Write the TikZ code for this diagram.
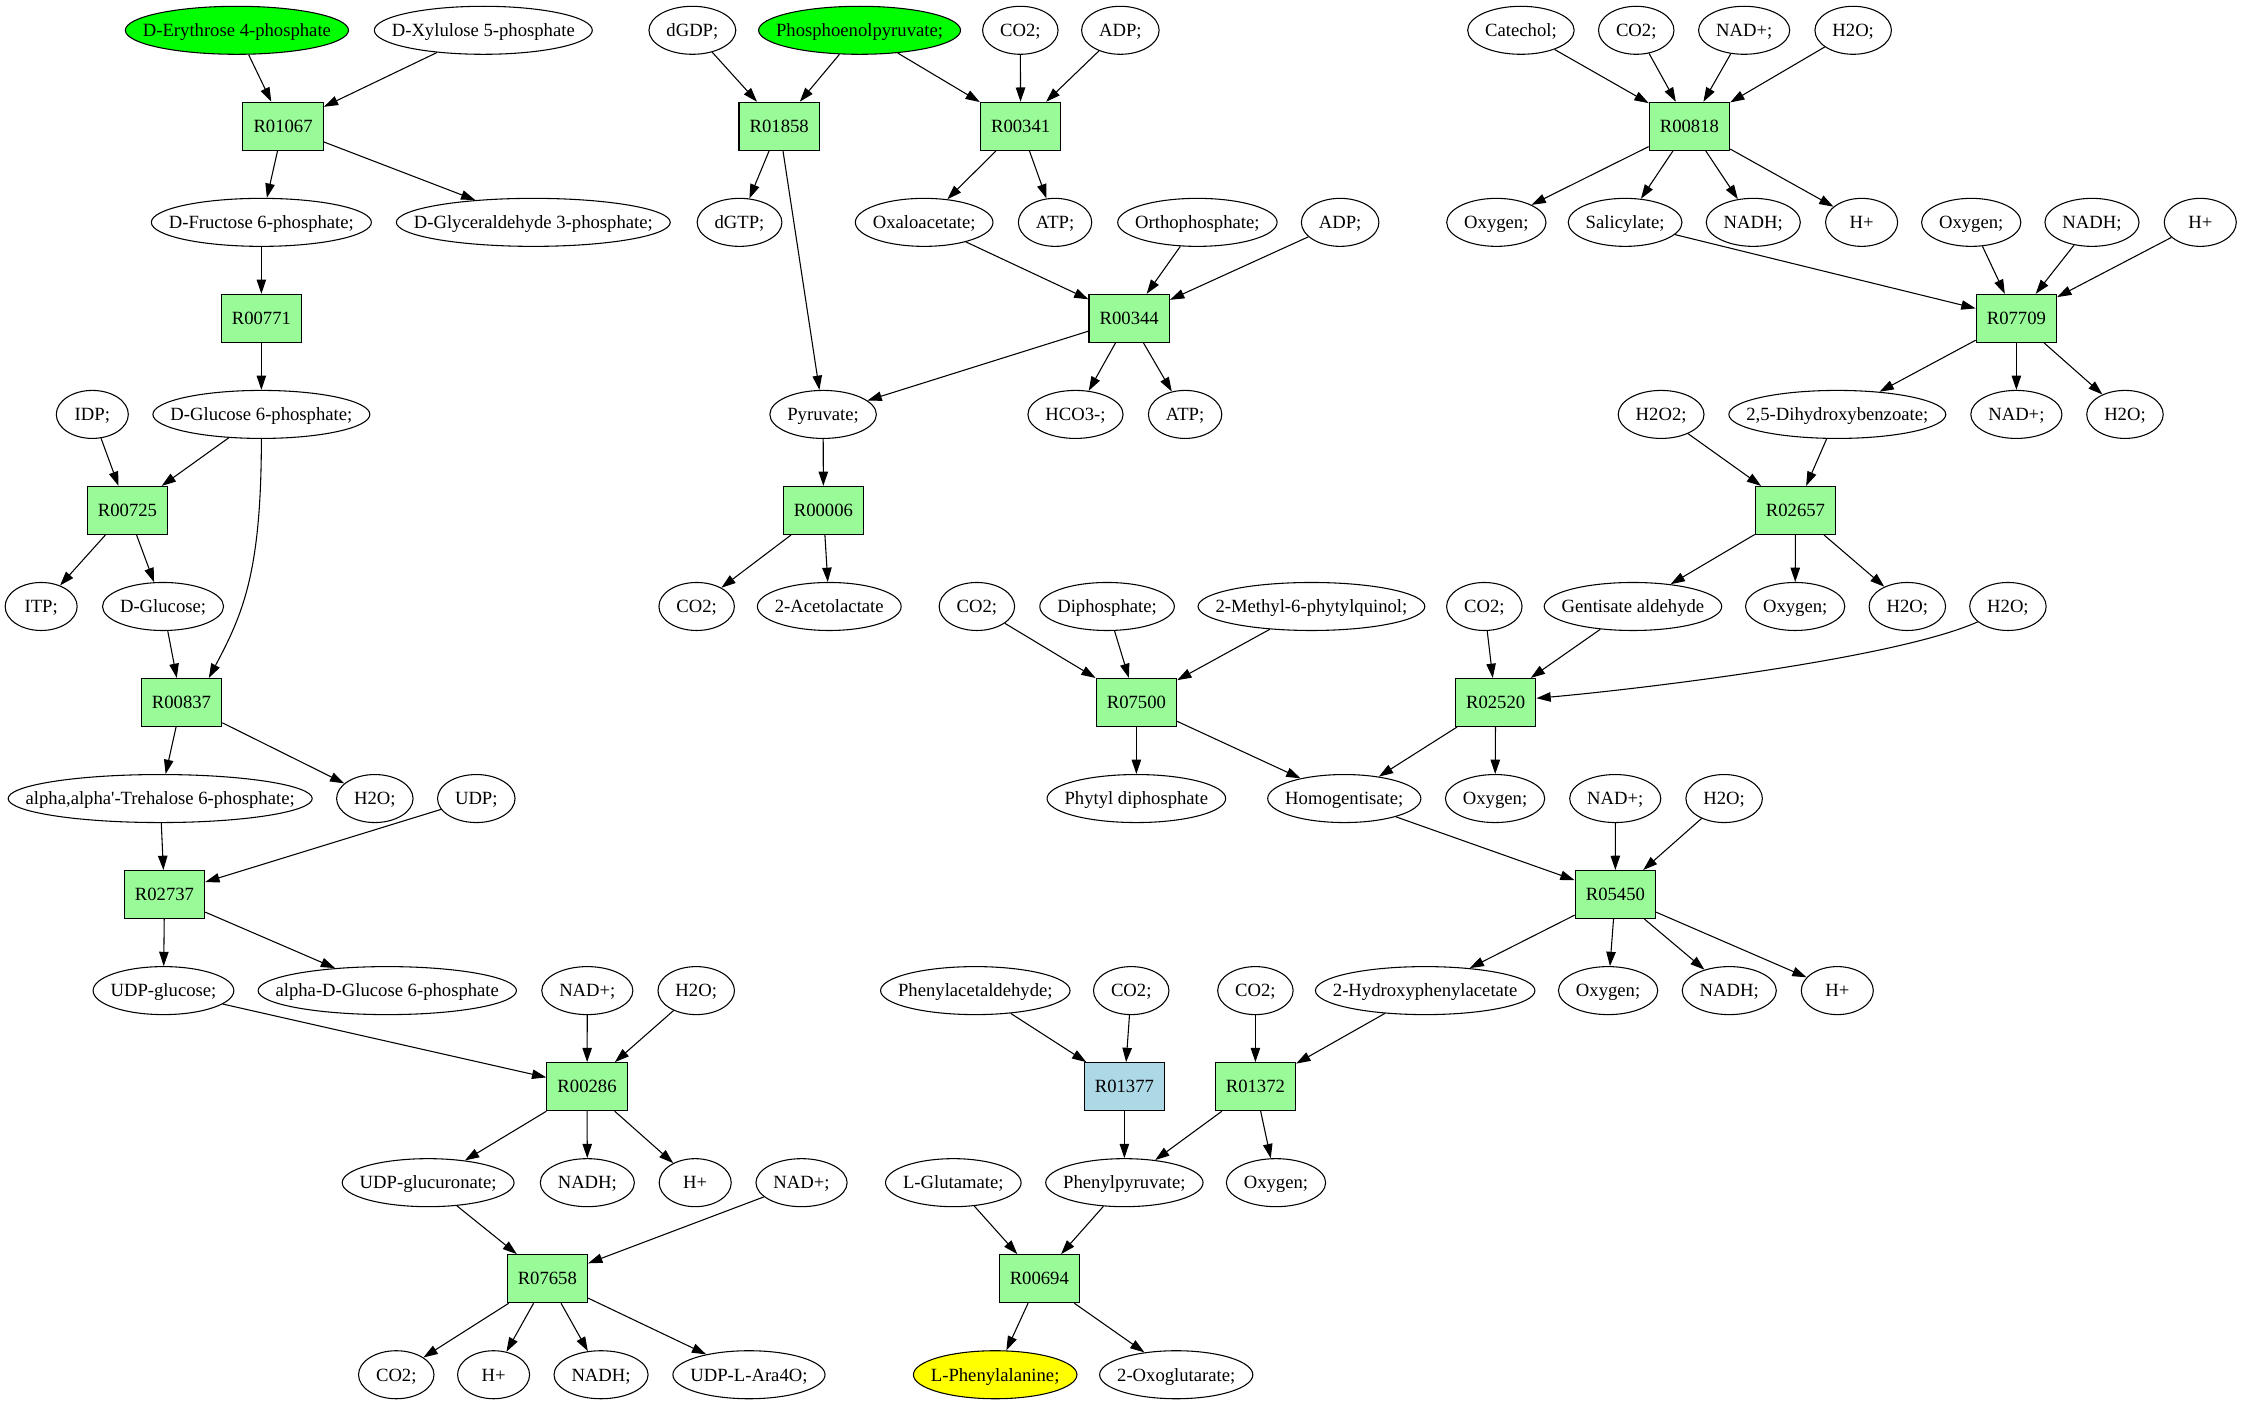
\documentclass[tikz,border=0pt]{standalone}
\usepackage{fontspec}
\setmainfont{Liberation Serif}
\usetikzlibrary{shapes.geometric,arrows.meta}
\definecolor{rxgreen}{HTML}{98FB98}
\definecolor{srcgreen}{HTML}{00FF00}
\definecolor{tgtyellow}{HTML}{FFFF00}
\definecolor{rxblue}{HTML}{ADD8E6}
\font\gvf="Liberation Serif" at 13.06pt
\newdimen\metw
% metabolite node: [style]{name}{x,y}{text}
\newcommand\met[4][]{%
  \setbox0=\hbox{\gvf #4}\metw=\wd0\relax
  \advance\metw by 24.5pt\relax
  \ifdim\metw<50.4pt\relax\metw=50.4pt\relax\fi
  \node[metab,minimum width=\metw,#1] (#2) at (#3) {#4};}
\tikzset{
  metab/.style={draw, ellipse, line width=0.75pt, inner xsep=-80pt, inner ysep=-30pt,
    minimum height=33.6pt, font=\gvf, text height=10pt, text depth=1.2pt},
  rbox/.style={draw, rectangle, fill=rxgreen, line width=0.75pt, inner xsep=7.47pt, inner ysep=0pt,
    minimum width=50.4pt, minimum height=33.6pt, font=\gvf, text height=10pt, text depth=1.2pt},
  flow/.style={draw, line width=0.75pt, -{Triangle[length=10pt,width=6.6pt]}},
}
\begin{document}
\begin{tikzpicture}[x=1pt,y=-1pt]
\useasboundingbox (0,0) rectangle (1568.2,981.8);
% rank 0
\met[fill=srcgreen]{ery}{165.8,21.2}{D-Erythrose 4-phosphate}
\met{xyl}{338.2,21.2}{D-Xylulose 5-phosphate}
\met{dgdp}{484.5,21.2}{dGDP;}
\met[fill=srcgreen]{pep}{601.5,21.2}{Phosphoenolpyruvate;}
\met{co2a}{714.0,21.2}{CO2;}
\met{adpa}{784.0,21.2}{ADP;}
\met{catechol}{1064.3,21.2}{Catechol;}
\met{co2b}{1145.0,21.2}{CO2;}
\met{nadpa}{1220.5,21.2}{NAD+;}
\met{h2oa}{1296.8,21.2}{H2O;}
% rank 1
\node[rbox] (r01067) at (198.1,88.4) {R01067};
\node[rbox] (r01858) at (545.3,88.4) {R01858};
\node[rbox] (r00341) at (714.2,88.4) {R00341};
\node[rbox] (r00818) at (1182.2,88.4) {R00818};
% rank 2
\met{f6p}{182.9,155.6}{D-Fructose 6-phosphate;}
\met{g3p}{373.2,155.6}{D-Glyceraldehyde 3-phosphate;}
\met{dgtp}{517.5,155.6}{dGTP;}
\met{oaa}{646.7,155.6}{Oxaloacetate;}
\met{atpa}{738.3,155.6}{ATP;}
\met{pi}{837.9,155.6}{Orthophosphate;}
\met{adpb}{937.8,155.6}{ADP;}
\met{oxya}{1047.1,155.6}{Oxygen;}
\met{salic}{1137.2,155.6}{Salicylate;}
\met{nadha}{1226.9,155.6}{NADH;}
\met{hpa}{1302.7,155.6}{H+}
\met{oxyb}{1379.4,155.6}{Oxygen;}
\met{nadhb}{1463.9,155.6}{NADH;}
\met{hpb}{1539.7,155.6}{H+}
% rank 3
\node[rbox] (r00771) at (182.9,222.8) {R00771};
\node[rbox] (r00344) at (790.2,222.8) {R00344};
\node[rbox] (r07709) at (1411.0,222.8) {R07709};
% rank 4
\met{idp}{64.6,290.0}{IDP;}
\met{g6p}{182.9,290.0}{D-Glucose 6-phosphate;}
\met{pyr}{576.0,290.0}{Pyruvate;}
\met{hco3}{752.6,290.0}{HCO3-;}
\met{atpb}{829.3,290.0}{ATP;}
\met{h2o2}{1162.4,290.0}{H2O2;}
\met{dhb}{1285.7,290.0}{2,5-Dihydroxybenzoate;}
\met{nadpb}{1411.0,290.0}{NAD+;}
\met{h2ob}{1487.0,290.0}{H2O;}
% rank 5
\node[rbox] (r00725) at (89.2,357.2) {R00725};
\node[rbox] (r00006) at (576.2,357.2) {R00006};
\node[rbox] (r02657) at (1256.4,357.2) {R02657};
% rank 6
\met{itp}{28.8,424.4}{ITP;}
\met{glc}{114.1,424.4}{D-Glucose;}
\met{co2c}{487.5,424.4}{CO2;}
\met{acetol}{580.3,424.4}{2-Acetolactate}
\met{co2d}{683.6,424.4}{CO2;}
\met{diph}{774.7,424.4}{Diphosphate;}
\met{mpq}{917.7,424.4}{2-Methyl-6-phytylquinol;}
\met{co2e}{1038.7,424.4}{CO2;}
\met{gent}{1142.7,424.4}{Gentisate aldehyde}
\met{oxyc}{1256.2,424.4}{Oxygen;}
\met{h2oc}{1334.7,424.4}{H2O;}
\met{h2od}{1405.1,424.4}{H2O;}
% rank 7
\node[rbox] (r00837) at (127.0,491.6) {R00837};
\node[rbox] (r07500) at (795.2,491.6) {R07500};
\node[rbox] (r02520) at (1046.6,491.6) {R02520};
% rank 8
\met{treh}{112.1,558.8}{alpha,alpha'-Trehalose 6-phosphate;}
\met{h2oe}{262.3,558.8}{H2O;}
\met{udp}{333.3,558.8}{UDP;}
\met{phytdp}{795.2,558.8}{Phytyl diphosphate}
\met{hga}{940.7,558.8}{Homogentisate;}
\met{oxyd}{1046.2,558.8}{Oxygen;}
\met{nadpc}{1130.3,558.8}{NAD+;}
\met{h2of}{1206.5,558.8}{H2O;}
% rank 9
\node[rbox] (r02737) at (115.1,626.0) {R02737};
\node[rbox] (r05450) at (1130.4,626.0) {R05450};
% rank 10
\met{udpg}{114.4,693.2}{UDP-glucose;}
\met{ag6p}{271.0,693.2}{alpha-D-Glucose 6-phosphate}
\met{nadpd}{411.0,693.2}{NAD+;}
\met{h2og}{487.2,693.2}{H2O;}
\met{phacet}{682.5,693.2}{Phenylacetaldehyde;}
\met{co2f}{791.6,693.2}{CO2;}
\met{co2g}{878.5,693.2}{CO2;}
\met{hpaa}{997.3,693.2}{2-Hydroxyphenylacetate}
\met{oxye}{1125.3,693.2}{Oxygen;}
\met{nadhc}{1210.1,693.2}{NADH;}
\met{hpc}{1285.7,693.2}{H+}
% rank 11
\node[rbox] (r00286) at (410.8,760.4) {R00286};
\node[rbox,fill=rxblue] (r01377) at (786.8,760.4) {R01377};
\node[rbox] (r01372) at (878.5,760.4) {R01372};
% rank 12
\met{udpgn}{299.6,827.6}{UDP-glucuronate;}
\met{nadhd}{411.0,827.6}{NADH;}
\met{hpd}{486.5,827.6}{H+}
\met{nadpe}{560.9,827.6}{NAD+;}
\met{lglu}{667.1,827.6}{L-Glutamate;}
\met{phpyr}{786.8,827.6}{Phenylpyruvate;}
\met{oxyf}{892.9,827.6}{Oxygen;}
% rank 13
\node[rbox] (r07658) at (383.0,894.8) {R07658};
\node[rbox] (r00694) at (727.3,894.8) {R00694};
% rank 14
\met{co2h}{277.3,962.0}{CO2;}
\met{hpe}{345.4,962.0}{H+}
\met{nadhe}{420.6,962.0}{NADH;}
\met{ara}{524.1,962.0}{UDP-L-Ara4O;}
\met[fill=tgtyellow]{phe}{696.4,962.0}{L-Phenylalanine;}
\met{oxoglu}{823.1,962.0}{2-Oxoglutarate;}

% ---- edges: left column
\draw[flow] (ery) -- (r01067);
\draw[flow] (xyl) -- (r01067);
\draw[flow] (r01067) -- (f6p);
\draw[flow] (r01067) -- (g3p);
\draw[flow] (f6p) -- (r00771);
\draw[flow] (r00771) -- (g6p);
\draw[flow] (idp) -- (r00725);
\draw[flow] (g6p) -- (r00725);
\draw[flow] (r00725) -- (itp);
\draw[flow] (r00725) -- (glc);
\draw[flow] (glc) -- (r00837);
\draw[flow] (g6p.south) .. controls +(0,93) and +(24,-45) .. ([xshift=-9.4pt]r00837.north east);
\draw[flow] (r00837) -- (treh);
\draw[flow] (r00837) -- (h2oe);
\draw[flow] (treh) -- (r02737);
\draw[flow] (udp) -- (r02737);
\draw[flow] (r02737) -- (udpg);
\draw[flow] (r02737) -- (ag6p);
\draw[flow] (udpg) -- (r00286);
\draw[flow] (nadpd) -- (r00286);
\draw[flow] (h2og) -- (r00286);
\draw[flow] (r00286) -- (udpgn);
\draw[flow] (r00286) -- (nadhd);
\draw[flow] (r00286) -- (hpd);
\draw[flow] (udpgn) -- (r07658);
\draw[flow] (nadpe) -- (r07658);
\draw[flow] (r07658) -- (co2h);
\draw[flow] (r07658) -- (hpe);
\draw[flow] (r07658) -- (nadhe);
\draw[flow] (r07658) -- (ara);
% ---- middle top
\draw[flow] (dgdp) -- (r01858);
\draw[flow] (pep) -- (r01858);
\draw[flow] (r01858) -- (dgtp);
\draw[flow] (r01858) -- (pyr);
\draw[flow] (pep) -- (r00341);
\draw[flow] (co2a) -- (r00341);
\draw[flow] (adpa) -- (r00341);
\draw[flow] (r00341) -- (oaa);
\draw[flow] (r00341) -- (atpa);
\draw[flow] (oaa) -- (r00344);
\draw[flow] (pi) -- (r00344);
\draw[flow] (adpb) -- (r00344);
\draw[flow] (r00344) -- (pyr);
\draw[flow] (r00344) -- (hco3);
\draw[flow] (r00344) -- (atpb);
\draw[flow] (pyr) -- (r00006);
\draw[flow] (r00006) -- (co2c);
\draw[flow] (r00006) -- (acetol);
% ---- right top
\draw[flow] (catechol) -- (r00818);
\draw[flow] (co2b) -- (r00818);
\draw[flow] (nadpa) -- (r00818);
\draw[flow] (h2oa) -- (r00818);
\draw[flow] (r00818) -- (oxya);
\draw[flow] (r00818) -- (salic);
\draw[flow] (r00818) -- (nadha);
\draw[flow] (r00818) -- (hpa);
\draw[flow] (salic) -- (r07709);
\draw[flow] (oxyb) -- (r07709);
\draw[flow] (nadhb) -- (r07709);
\draw[flow] (hpb) -- (r07709);
\draw[flow] (r07709) -- (dhb);
\draw[flow] (r07709) -- (nadpb);
\draw[flow] (r07709) -- (h2ob);
\draw[flow] (h2o2) -- (r02657);
\draw[flow] (dhb) -- (r02657);
\draw[flow] (r02657) -- (gent);
\draw[flow] (r02657) -- (oxyc);
\draw[flow] (r02657) -- (h2oc);
% ---- middle
\draw[flow] (co2d) -- (r07500);
\draw[flow] (diph) -- (r07500);
\draw[flow] (mpq) -- (r07500);
\draw[flow] (r07500) -- (phytdp);
\draw[flow] (r07500) -- (hga);
\draw[flow] (co2e) -- (r02520);
\draw[flow] (gent) -- (r02520);
\draw[flow] (h2od.207) .. controls +(-59,26.3) and +(64.4,-5.6) .. ([yshift=3pt]r02520.east);
\draw[flow] (r02520) -- (hga);
\draw[flow] (r02520) -- (oxyd);
\draw[flow] (hga) -- (r05450);
\draw[flow] (nadpc) -- (r05450);
\draw[flow] (h2of) -- (r05450);
\draw[flow] (r05450) -- (hpaa);
\draw[flow] (r05450) -- (oxye);
\draw[flow] (r05450) -- (nadhc);
\draw[flow] (r05450) -- (hpc);
\draw[flow] (phacet) -- (r01377);
\draw[flow] (co2f) -- (r01377);
\draw[flow] (r01377) -- (phpyr);
\draw[flow] (co2g) -- (r01372);
\draw[flow] (hpaa) -- (r01372);
\draw[flow] (r01372) -- (phpyr);
\draw[flow] (r01372) -- (oxyf);
\draw[flow] (lglu) -- (r00694);
\draw[flow] (phpyr) -- (r00694);
\draw[flow] (r00694) -- (phe);
\draw[flow] (r00694) -- (oxoglu);
\end{tikzpicture}
\end{document}
